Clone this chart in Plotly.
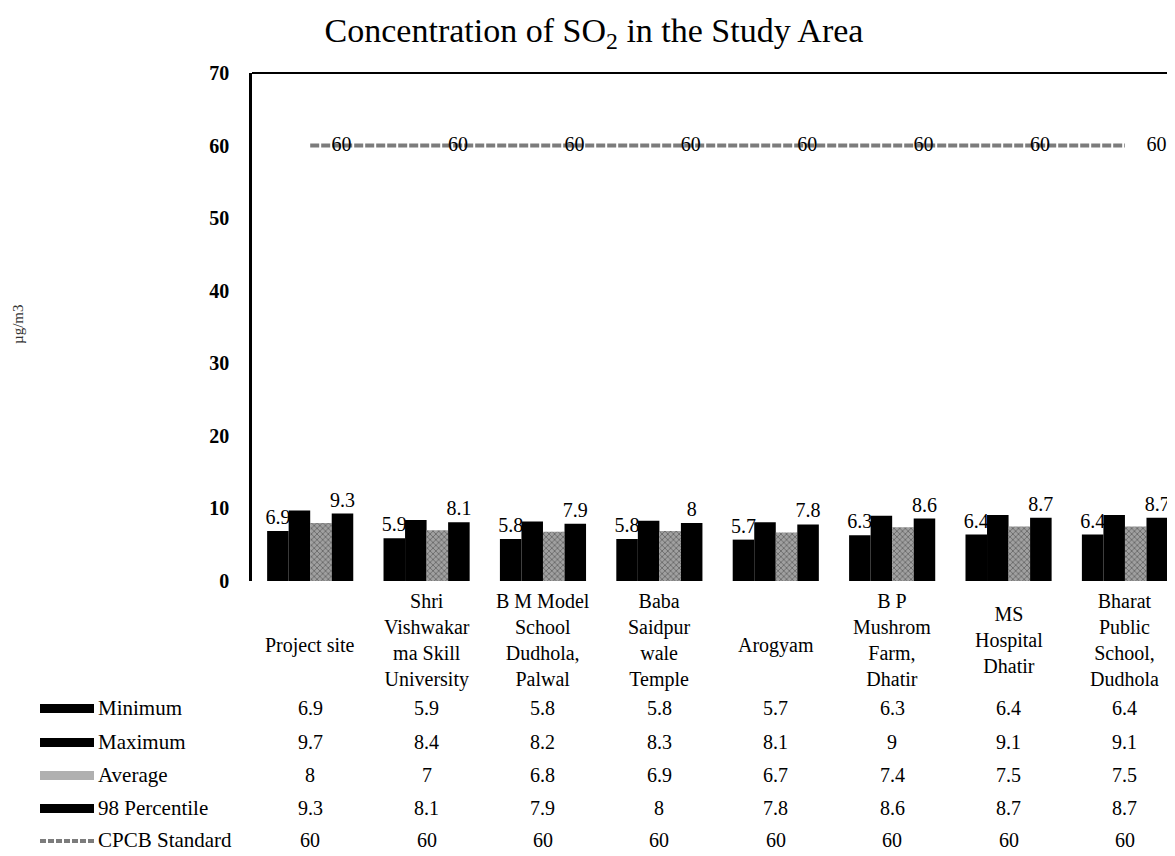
import plotly.graph_objects as go

categories = [
    "Project site",
    "Shri<br>Vishwakar<br>ma Skill<br>University",
    "B M Model<br>School<br>Dudhola,<br>Palwal",
    "Baba<br>Saidpur<br>wale<br>Temple",
    "Arogyam",
    "B P<br>Mushrom<br>Farm,<br>Dhatir",
    "MS<br>Hospital<br>Dhatir",
    "Bharat<br>Public<br>School,<br>Dudhola",
]
minimum = [6.9, 5.9, 5.8, 5.8, 5.7, 6.3, 6.4, 6.4]
maximum = [9.7, 8.4, 8.2, 8.3, 8.1, 9.0, 9.1, 9.1]
average = [8.0, 7.0, 6.8, 6.9, 6.7, 7.4, 7.5, 7.5]
percentile98 = [9.3, 8.1, 7.9, 8.0, 7.8, 8.6, 8.7, 8.7]
cpcb_standard = [60, 60, 60, 60, 60, 60, 60, 60]
y_ticks = [0, 10, 20, 30, 40, 50, 60, 70]

FONT = "Liberation Serif, Times New Roman, serif"
OFF = 8  # page body margin offset
W, H = 1175 - OFF, 856 - OFF
PLOT_L, PLOT_T, PLOT_B = 252 - OFF, 73 - OFF, 581 - OFF   # in figure px
L, R, T, B = PLOT_L, 0, PLOT_T, H - PLOT_B
PW, PH = W - L - R, H - T - B

def px2paper_x(page_px):
    return (page_px - OFF - L) / PW

def py2paper_y(page_py):
    return (PLOT_B - (page_py - OFF)) / PH

xs = list(range(len(categories)))
fmt = lambda v: f"{v:g}"

fig = go.Figure()
fig.add_trace(go.Bar(x=xs, y=minimum, name="Minimum", marker=dict(color="#000000", line=dict(width=0)),
                     text=[fmt(v) for v in minimum], textposition="outside", constraintext="none",
                     textfont=dict(family=FONT, size=20, color="#000"), cliponaxis=False))
fig.add_trace(go.Bar(x=xs, y=maximum, name="Maximum", marker=dict(color="#000000", line=dict(width=0))))
fig.add_trace(go.Bar(x=xs, y=average, name="Average",
                     marker=dict(color="#a0a0a0", line=dict(width=0),
                                 pattern=dict(shape="x", fgcolor="#333333", size=4, solidity=0.4))))
fig.add_trace(go.Bar(x=xs, y=percentile98, name="98 Percentile", marker=dict(color="#000000", line=dict(width=0)),
                     text=[fmt(v) for v in percentile98], textposition="outside", constraintext="none",
                     textfont=dict(family=FONT, size=20, color="#000"), cliponaxis=False))
fig.add_trace(go.Scatter(x=xs, y=cpcb_standard, name="CPCB Standard", mode="lines",
                         line=dict(color="#7c7c7c", width=4, dash="9px,2px")))
fig.add_trace(go.Scatter(x=[x + 0.27 for x in xs], y=cpcb_standard, mode="text",
                         text=[fmt(v) for v in cpcb_standard], textposition="middle center",
                         textfont=dict(family=FONT, size=20, color="#000"), showlegend=False,
                         cliponaxis=False))

ann = []
for i, c in enumerate(categories):
    nlines = c.count("<br>") + 1
    cy = 645 if nlines == 1 else 640
    ann.append(dict(x=i, xref="x", y=py2paper_y(cy), yref="paper", text=c, showarrow=False,
                    xanchor="center", yanchor="middle", align="center",
                    font=dict(family=FONT, size=20, color="#000")))

rows = [("Minimum", minimum), ("Maximum", maximum), ("Average", average),
        ("98 Percentile", percentile98), ("CPCB Standard", cpcb_standard)]
row_y = [708, 742, 775, 808, 840]
shapes = []
for (label, vals), ry in zip(rows, row_y):
    for i, v in enumerate(vals):
        ann.append(dict(x=i, xref="x", y=py2paper_y(ry), yref="paper", text=fmt(v), showarrow=False,
                        xanchor="center", yanchor="middle",
                        font=dict(family=FONT, size=20, color="#000")))
    ann.append(dict(x=px2paper_x(96), xref="paper", y=py2paper_y(ry), yref="paper", text=label,
                    showarrow=False, xanchor="left", yanchor="middle",
                    font=dict(family=FONT, size=21, color="#000")))
    if label == "CPCB Standard":
        shapes.append(dict(type="line", xref="paper", yref="paper",
                           x0=px2paper_x(40), x1=px2paper_x(94), y0=py2paper_y(ry + 1), y1=py2paper_y(ry + 1),
                           line=dict(color="#7c7c7c", width=4, dash="6px,2px")))
    elif label == "Average":
        shapes.append(dict(type="rect", xref="paper", yref="paper",
                           x0=px2paper_x(40), x1=px2paper_x(94), y0=py2paper_y(ry - 4), y1=py2paper_y(ry + 5),
                           fillcolor="#b0b0b0", line=dict(width=0)))
    else:
        shapes.append(dict(type="rect", xref="paper", yref="paper",
                           x0=px2paper_x(40), x1=px2paper_x(94), y0=py2paper_y(ry - 4), y1=py2paper_y(ry + 5),
                           fillcolor="#000000", line=dict(width=0)))

shapes.append(dict(type="line", xref="paper", yref="paper", x0=0, x1=1, y0=1, y1=1,
                   line=dict(color="#000", width=2)))

ann.append(dict(x=px2paper_x(18), xref="paper", y=py2paper_y(325), yref="paper", text="µg/m3", textangle=-90,
                showarrow=False, xanchor="center", yanchor="middle",
                font=dict(family=FONT, size=15, color="#333")))

fig.update_layout(
    width=W, height=H,
    margin=dict(l=L, r=R, t=T, b=B, pad=0),
    paper_bgcolor="white", plot_bgcolor="white",
    barmode="group", bargap=0.26, bargroupgap=0,
    showlegend=False,
    title=dict(text="Concentration of SO<sub>2</sub> in the Study Area", x=px2paper_x(594), xref="paper",
               xanchor="center", y=1 - (30 - OFF) / H, yanchor="middle",
               font=dict(family=FONT, size=34, color="#000")),
    xaxis=dict(range=[-0.5, 7.43], showticklabels=False, showgrid=False, zeroline=False, showline=False),
    yaxis=dict(range=[0, 70], tickvals=y_ticks, ticktext=[str(v) for v in y_ticks], showgrid=False,
               zeroline=False, showline=True, linecolor="#000", linewidth=2.5,
               ticks="", ticklabelstandoff=16,
               tickfont=dict(family=FONT, size=20, color="#000", weight="bold")),
    annotations=ann, shapes=shapes,
)

fig.write_html("out.html")
